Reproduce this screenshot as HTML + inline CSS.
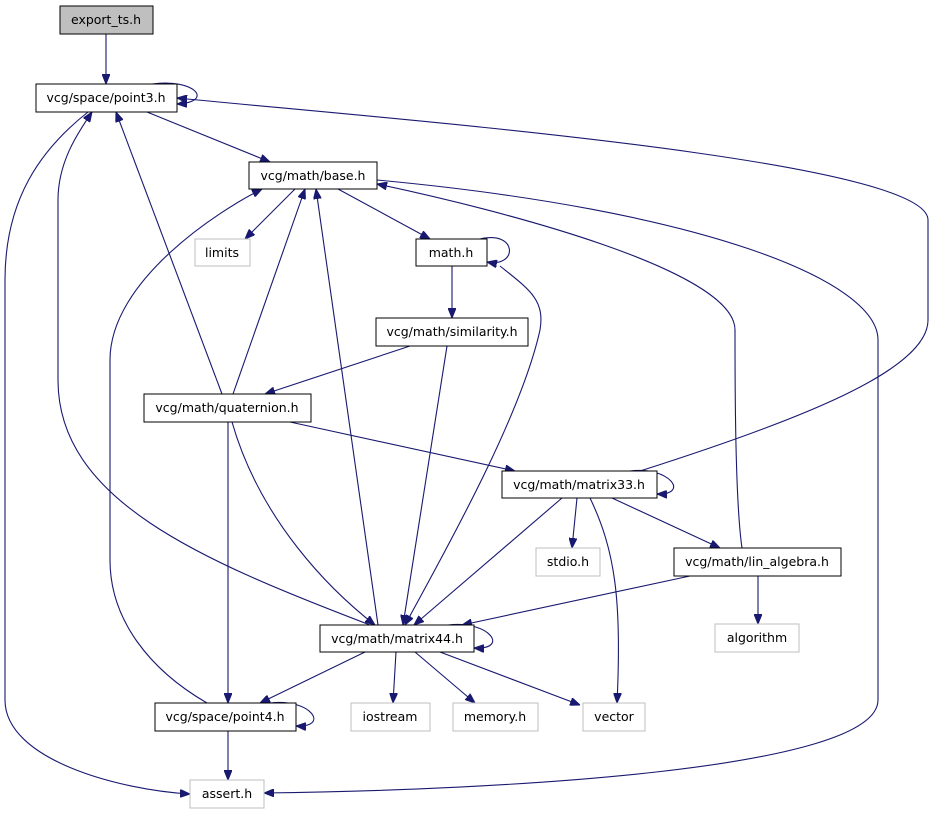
<!DOCTYPE html>
<html><head><meta charset="utf-8"><style>
html,body{margin:0;padding:0;background:#fff}
svg text{font-family:"DejaVu Sans","Liberation Sans",sans-serif;font-size:12.5px;fill:#000}
</style></head><body>
<svg width="933" height="813" viewBox="0 0 933 813" xmlns="http://www.w3.org/2000/svg">
<defs><marker id="a" markerWidth="10" markerHeight="8" refX="10" refY="4" orient="auto" markerUnits="userSpaceOnUse"><path d="M0,0 L10,4 L0,8 Z" fill="#191970" stroke="#191970"/></marker></defs>
<g fill="none" stroke="#191970" stroke-width="1.1" marker-end="url(#a)">
<path d="M106,34 L106,84"/>
<path d="M152,84 C195,78 215,102 177,104"/>
<path d="M147,112 L270,162"/>
<path d="M88,112 C40,150 5,200 5,280 L5,700 C5,760 120,790 190,794"/>
<path d="M222,394 L116,112"/>
<path d="M370,625 C200,560 58,500 58,380 L58,200 C58,160 80,130 92,112"/>
<path d="M640,471 C800,420 928,370 928,320 L928,220 C928,160 400,120 177,98"/>
<path d="M295,189 L245,239"/>
<path d="M338,189 L430,239"/>
<path d="M377,180 C700,210 878,280 878,340 L878,700 C878,770 500,790 264,793"/>
<path d="M233,394 L305,189"/>
<path d="M378,625 L316,189"/>
<path d="M207,703 C150,670 110,620 110,560 L110,360 C110,280 220,210 262,189"/>
<path d="M742,548 C735,500 735,380 735,330 C735,270 500,210 377,184"/>
<path d="M480,239 C518,230 518,268 487,262"/>
<path d="M452,266 L452,318"/>
<path d="M500,266 C530,290 545,300 540,330 C520,420 440,560 405,625"/>
<path d="M410,346 L265,394"/>
<path d="M447,346 L403,625"/>
<path d="M290,422 L515,471"/>
<path d="M232,422 C260,520 330,590 375,625"/>
<path d="M228,422 L228,703"/>
<path d="M630,471 C670,466 690,495 657,494"/>
<path d="M577,498 L572,548"/>
<path d="M590,498 C615,550 622,600 617,703"/>
<path d="M612,498 L720,548"/>
<path d="M562,498 L414,625"/>
<path d="M690,576 L462,625"/>
<path d="M758,576 L758,624"/>
<path d="M448,625 C490,620 510,650 474,648"/>
<path d="M365,652 L260,703"/>
<path d="M396,652 L393,703"/>
<path d="M415,652 L475,703"/>
<path d="M440,652 L580,705"/>
<path d="M270,703 C312,698 330,728 296,726"/>
<path d="M228,731 L228,780"/>
</g>
<g stroke-width="1">
<rect x="60" y="6" width="93" height="28" fill="#bfbfbf" stroke="#000"/>
<rect x="36" y="84" width="141" height="28" fill="#fff" stroke="#000"/>
<rect x="249" y="162" width="128" height="27" fill="#fff" stroke="#000"/>
<rect x="195" y="239" width="55" height="27" fill="#fff" stroke="#bfbfbf"/>
<rect x="416" y="239" width="71" height="27" fill="#fff" stroke="#000"/>
<rect x="376" y="318" width="152" height="28" fill="#fff" stroke="#000"/>
<rect x="144" y="394" width="167" height="28" fill="#fff" stroke="#000"/>
<rect x="502" y="471" width="155" height="27" fill="#fff" stroke="#000"/>
<rect x="536" y="548" width="64" height="28" fill="#fff" stroke="#bfbfbf"/>
<rect x="674" y="548" width="167" height="28" fill="#fff" stroke="#000"/>
<rect x="715" y="624" width="84" height="28" fill="#fff" stroke="#bfbfbf"/>
<rect x="320" y="625" width="154" height="27" fill="#fff" stroke="#000"/>
<rect x="155" y="703" width="141" height="28" fill="#fff" stroke="#000"/>
<rect x="351" y="703" width="79" height="28" fill="#fff" stroke="#bfbfbf"/>
<rect x="453" y="703" width="85" height="28" fill="#fff" stroke="#bfbfbf"/>
<rect x="583" y="703" width="62" height="28" fill="#fff" stroke="#bfbfbf"/>
<rect x="190" y="780" width="74" height="28" fill="#fff" stroke="#bfbfbf"/>
</g>
<g text-anchor="middle">
<text x="106" y="24">export_ts.h</text>
<text x="106" y="102">vcg/space/point3.h</text>
<text x="313" y="180">vcg/math/base.h</text>
<text x="222" y="257">limits</text>
<text x="451" y="257">math.h</text>
<text x="452" y="336">vcg/math/similarity.h</text>
<text x="227" y="412">vcg/math/quaternion.h</text>
<text x="579" y="489">vcg/math/matrix33.h</text>
<text x="568" y="566">stdio.h</text>
<text x="757" y="566">vcg/math/lin_algebra.h</text>
<text x="757" y="642">algorithm</text>
<text x="397" y="643">vcg/math/matrix44.h</text>
<text x="225" y="721">vcg/space/point4.h</text>
<text x="390" y="721">iostream</text>
<text x="495" y="721">memory.h</text>
<text x="614" y="721">vector</text>
<text x="227" y="798">assert.h</text>
</g>
</svg>
</body></html>
